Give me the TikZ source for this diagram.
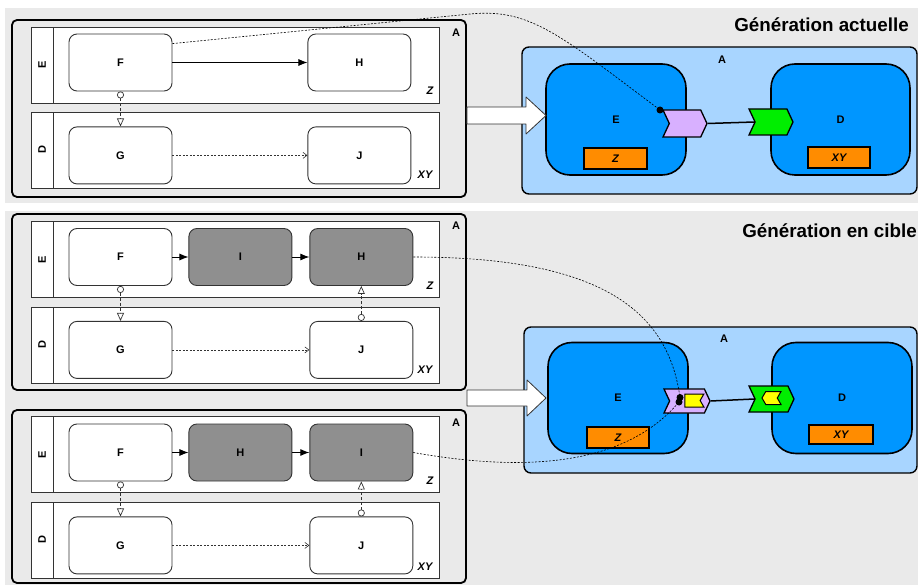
\documentclass[tikz,border=0pt]{standalone}
\usepackage{fontspec}
\setmainfont{Liberation Sans}
\usetikzlibrary{arrows.meta,positioning,shapes.symbols}
\definecolor{bggray}{HTML}{EAEAEA}
\definecolor{procgray}{HTML}{8F8F8F}
\definecolor{linegray}{HTML}{333333}
\definecolor{panelblue}{HTML}{A8D5FF}
\definecolor{compblue}{HTML}{0096FF}
\definecolor{tagorange}{HTML}{FF8C00}
\definecolor{portpurple}{HTML}{D8B0FF}
\definecolor{portgreen}{HTML}{00EE00}
\definecolor{portyellow}{HTML}{FFFF00}
\pgfdeclarelayer{front}
\pgfsetlayers{main,front}

\begin{document}
\begin{tikzpicture}[
    x=1pt, y=-1pt,
    font=\fontsize{11}{13}\selectfont\bfseries,
    container/.style={
      draw=black,
      line width=1.8pt,
      rounded corners=5pt,
      minimum width=454pt,
      inner sep=0pt,
    },
    lane/.style={
      draw=linegray,
      line width=0.9pt,
      fill=white,
      minimum width=408pt,
      minimum height=76pt,
      inner sep=0pt,
    },
    lanehead/.style={lane, minimum width=22pt},
    lanelbl/.style={rotate=90, inner sep=0pt},
    lanetag/.style={font=\fontsize{11}{13}\selectfont\bfseries\itshape, inner sep=0pt},
    proc/.style={
      draw=linegray,
      line width=0.9pt,
      fill=white,
      rounded corners=8pt,
      minimum width=103pt,
      minimum height=57pt,
      inner sep=0pt,
    },
    procdone/.style={proc, fill=procgray},
    panel/.style={
      draw=black,
      line width=1.4pt,
      fill=panelblue,
      rounded corners=7pt,
      inner sep=0pt,
    },
    comp/.style={
      draw=black,
      line width=1.6pt,
      fill=compblue,
      rounded corners=24pt,
      minimum width=140pt,
      minimum height=111pt,
      inner sep=0pt,
    },
    tag/.style={
      draw=black,
      line width=1.2pt,
      fill=tagorange,
      minimum height=21pt,
      inner sep=0pt,
      font=\fontsize{11}{13}\selectfont\bfseries\itshape,
    },
    port/.style={
      signal,
      signal from=west,
      signal to=east,
      signal pointer angle=130,
      draw=black,
      line width=1.3pt,
      inner sep=0pt,
    },
    yport/.style={
      signal,
      signal pointer angle=120,
      draw=black,
      line width=1pt,
      fill=portyellow,
      minimum width=19pt,
      minimum height=13pt,
      inner sep=0pt,
    },
    dot/.style={circle, fill=black, inner sep=0pt, minimum size=7pt},
    title/.style={anchor=east, inner sep=0pt, font=\fontsize{18.8}{21}\selectfont\bfseries},
    flow/.style={-{Latex[length=9pt,width=7pt]}, line width=0.9pt},
    assoc/.style={
      draw=linegray,
      line width=0.7pt,
      dash pattern=on 3pt off 2pt,
      {Circle[open,length=7pt,width=7pt,fill=white]}-{Triangle[open,length=8pt,width=7pt,fill=white]},
    },
    dataflow/.style={
      draw=linegray,
      line width=0.6pt,
      dash pattern=on 2pt off 1.5pt,
      -{Straight Barb[length=4pt,width=6pt]},
    },
    trace/.style={line width=0.6pt, dash pattern=on 2pt off 1.5pt},
    portlink/.style={line width=1.5pt},
    fatarrow/.style={draw=linegray, line width=0.8pt, fill=white, line join=round},
  ]
  \useasboundingbox (0,0) rectangle (918,585);
  \fill[bggray] (5,8) rectangle (918,203);
  \fill[bggray] (5,211) rectangle (918,585);

  % current generation
  \node[title] at (909,25) {Génération actuelle};
  \node[container, minimum height=177pt] (cur) at (239,108.5) {};
  \node at (456,33) {A};
  \node[lane] (curE) at (235,65) {};
  \node[lanehead, anchor=west] (curEh) at (curE.west) {};
  \node[lanelbl] at (curEh) {E};
  \node[lane] (curD) at (235,150) {};
  \node[lanehead, anchor=west] (curDh) at (curD.west) {};
  \node[lanelbl] at (curDh) {D};
  \node[lanetag] at (430,91) {Z};
  \node[lanetag] at (425,175) {XY};
  \node[proc] (curF) at (120.5,62.5) {F};
  \node[proc, right=135pt of curF] (curH) {H};
  \node[proc, below=35pt of curF] (curG) {G};
  \node[proc, right=135pt of curG] (curJ) {J};
  \draw[flow] (curF) -- (curH);
  \draw[assoc] (curF) -- (curG);
  \draw[dataflow] (curG) -- (curJ);

  \node[panel, minimum width=395pt, minimum height=147pt] (curP) at (719.5,120.5) {};
  \node at (722,60) {A};
  \node[comp] (curPE) at (616,119.5) {E};
  \node[tag, minimum width=63pt] at (615.5,158.5) {Z};
  \node[comp, minimum width=139pt] (curPD) at (840.5,119.5) {D};
  \node[tag, minimum width=62pt] at (839,157.5) {XY};
  \draw[fatarrow] (cur.east |- 0,107) -- (526,107) -- (526,97) -- (546,115.5)
    -- (526,134) -- (526,124) -- (cur.east |- 0,124) -- cycle;
  \node[port, fill=portpurple, minimum width=44pt, minimum height=27pt] (curPp) at (685,123.5) {};
  \node[port, fill=portgreen, minimum width=44pt, minimum height=26pt] (curPg) at (771,122) {};
  \draw[portlink] (curPp.east) -- (curPg.west);

  % target generation
  \node[title] at (917,231) {Génération en cible};
  \node[container, minimum height=176pt] (tgt) at (239,302) {};
  \node at (456,226) {A};
  \node[lane] (tgtE) at (235,259.5) {};
  \node[lanehead, anchor=west] (tgtEh) at (tgtE.west) {};
  \node[lanelbl] at (tgtEh) {E};
  \node[lane] (tgtD) at (235,345) {};
  \node[lanehead, anchor=west] (tgtDh) at (tgtD.west) {};
  \node[lanelbl] at (tgtDh) {D};
  \node[lanetag] at (430,286) {Z};
  \node[lanetag] at (425,370) {XY};
  \node[proc] (tgtF) at (120.5,257) {F};
  \node[procdone, right=16pt of tgtF] (tgtI) {I};
  \node[procdone, right=17pt of tgtI] (tgtH) {H};
  \node[proc, below=35pt of tgtF] (tgtG) {G};
  \node[proc, below=35pt of tgtH] (tgtJ) {J};
  \draw[flow] (tgtF) -- (tgtI);
  \draw[flow] (tgtI) -- (tgtH);
  \draw[assoc] (tgtF) -- (tgtG);
  \draw[assoc] (tgtJ) -- (tgtH);
  \draw[dataflow] (tgtG) -- (tgtJ);

  \node[container, minimum height=173pt] (alt) at (239,496.5) {};
  \node at (456,423) {A};
  \node[lane] (altE) at (235,454.5) {};
  \node[lanehead, anchor=west] (altEh) at (altE.west) {};
  \node[lanelbl] at (altEh) {E};
  \node[lane] (altD) at (235,540) {};
  \node[lanehead, anchor=west] (altDh) at (altD.west) {};
  \node[lanelbl] at (altDh) {D};
  \node[lanetag] at (430,481) {Z};
  \node[lanetag] at (425,567) {XY};
  \node[proc] (altF) at (120.5,452.5) {F};
  \node[procdone, right=16pt of altF] (altH) {H};
  \node[procdone, right=17pt of altH] (altI) {I};
  \node[proc, below=35pt of altF] (altG) {G};
  \node[proc, below=35pt of altI] (altJ) {J};
  \draw[flow] (altF) -- (altH);
  \draw[flow] (altH) -- (altI);
  \draw[assoc] (altF) -- (altG);
  \draw[assoc] (altJ) -- (altI);
  \draw[dataflow] (altG) -- (altJ);

  \node[panel, minimum width=393pt, minimum height=146pt] (tgtP) at (720.5,400) {};
  \node at (724,339) {A};
  \node[comp] (tgtPE) at (618,398) {E};
  \node[tag, minimum width=62pt] at (618,437.5) {Z};
  \node[comp] (tgtPD) at (842,398) {D};
  \node[tag, minimum width=64pt, minimum height=19pt] at (841,434.5) {XY};
  \draw[fatarrow] (tgt.east |- 0,390) -- (527,390) -- (527,380) -- (546,398)
    -- (527,416) -- (527,406) -- (tgt.east |- 0,406) -- cycle;
  \node[port, fill=portpurple, minimum width=46pt, minimum height=24pt] (tgtPp) at (687,401) {};
  \node[yport, signal from=east, signal to=nowhere] (tgtPpy) at (692.5,400.5) {};
  \node[port, fill=portgreen, minimum width=45pt, minimum height=26pt] (tgtPg) at (771.5,399) {};
  \node[yport, signal from=east, signal to=west] (tgtPgy) at (771.5,398) {};
  \draw[portlink] (tgtPp.east) -- (tgtPg.west);

  \begin{pgfonlayer}{front}
    \node[dot] (curDot) at (660,110) {};
    \node[dot] (tgtDot) at (680,397.5) {};
    \node[dot] (altDot) at (679,402) {};
    \draw[trace] (curF.20) -- (470,14) .. controls (530,8) and (560,35) .. (curDot.center);
    \draw[trace] (tgtH.east) .. controls (600,257) and (668,310) .. (tgtDot.center);
    \draw[trace] (altI.east) .. controls (540,475) and (630,460) .. (altDot.center);
  \end{pgfonlayer}
\end{tikzpicture}
\end{document}
